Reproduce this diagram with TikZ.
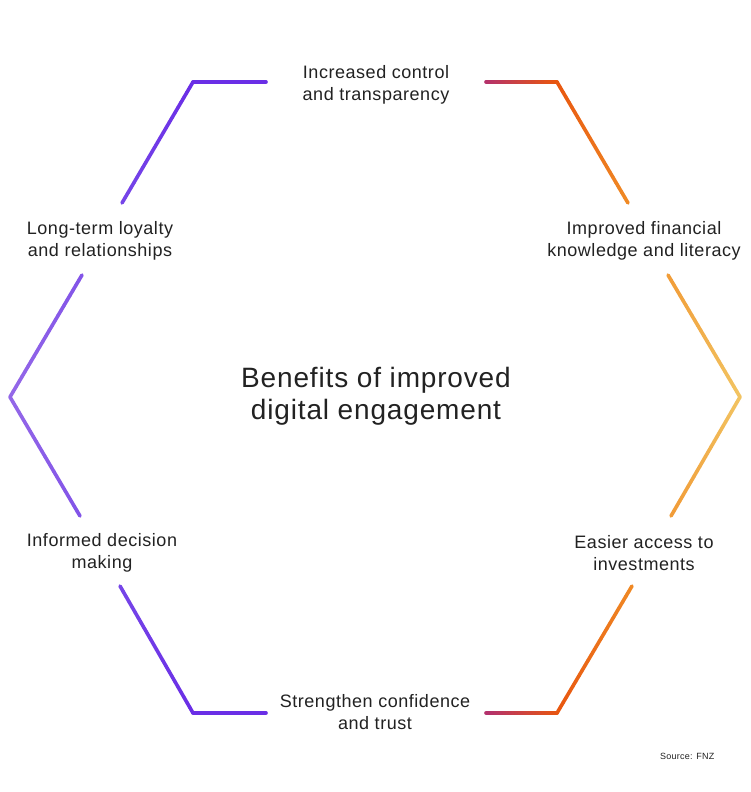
\documentclass[tikz,border=0pt]{standalone}
\usepackage{fontspec}
\setmainfont{Liberation Sans}[LetterSpace=3]
\usetikzlibrary{calc}

\definecolor{purpledeep}{HTML}{6A2EE6}
\definecolor{purplemid}{HTML}{7646E8}
\definecolor{purplelight}{HTML}{9468E8}
\definecolor{magentared}{HTML}{B3316E}
\definecolor{orangedeep}{HTML}{E8560F}
\definecolor{orangemid}{HTML}{F08A25}
\definecolor{yellowsoft}{HTML}{F2C462}
\definecolor{textgrey}{HTML}{222222}

% a straight stroke fading from one colour to another
\newcommand\gradline[4]{%
  \foreach \k in {0,...,23}{%
    \pgfmathsetmacro\ta{\k/24}%
    \pgfmathsetmacro\tb{(\k+1)/24}%
    \pgfmathtruncatemacro\pc{100-100*(\k+0.5)/24}%
    \colorlet{segcol}{#3!\pc!#4}%
    \draw[frame, segcol] ($(#1)!\ta!(#2)$) -- ($(#1)!\tb!(#2)$);
  }}

\tikzset{
  frame/.style={line width=3.6pt, line cap=round},
  benefit/.style={align=center, text=textgrey, font=\fontsize{18}{22}\selectfont},
  headline/.style={align=center, text=textgrey, font=\fontsize{28}{32}\selectfont},
  source/.style={anchor=east, text=textgrey, font=\fontsize{9}{11}\selectfont}
}

\begin{document}
\begin{tikzpicture}[x=1pt, y=-1pt]
  \useasboundingbox[fill=white] (0,0) rectangle (750,792);

  % hexagon corners and stroke ends
  \coordinate (tl) at (193,82);
  \coordinate (tr) at (557,82);
  \coordinate (r) at (740,397);
  \coordinate (br) at (557,713);
  \coordinate (bl) at (193,713);
  \coordinate (l) at (10,397);
  \coordinate (tl1) at (266,82);
  \coordinate (tl2) at (122,203);
  \coordinate (tr1) at (486,82);
  \coordinate (tr2) at (628,203);
  \coordinate (r1) at (668,275);
  \coordinate (r2) at (671,516);
  \coordinate (br1) at (632,586);
  \coordinate (br2) at (486,713);
  \coordinate (bl1) at (120,586);
  \coordinate (bl2) at (266,713);
  \coordinate (l1) at (82,275);
  \coordinate (l2) at (80,516);

  % left strokes
  \gradline{tl2}{tl}{purplemid}{purpledeep}
  \gradline{tl}{tl1}{purpledeep}{purpledeep}
  \gradline{l1}{l}{purplemid!60!purplelight}{purplelight}
  \gradline{l}{l2}{purplelight}{purplemid!60!purplelight}
  \gradline{bl1}{bl}{purplemid}{purpledeep}
  \gradline{bl}{bl2}{purpledeep}{purpledeep}

  % right strokes
  \gradline{tr1}{tr}{magentared}{orangedeep}
  \gradline{tr}{tr2}{orangedeep}{orangemid}
  \gradline{r1}{r}{orangemid!70!yellowsoft}{yellowsoft}
  \gradline{r}{r2}{yellowsoft}{orangemid!70!yellowsoft}
  \gradline{br1}{br}{orangemid}{orangedeep}
  \gradline{br}{br2}{orangedeep}{magentared}

  % labels
  \node[headline] (title) at (376,396) {Benefits of improved\\digital engagement};
  \node[benefit] (control) at (376,85) {Increased control\\and transparency};
  \node[benefit] (literacy) at (644,241) {Improved financial\\knowledge and literacy};
  \node[benefit] (access) at (644,553) {Easier access to\\investments};
  \node[benefit] (trust) at (375,712) {Strengthen confidence\\and trust};
  \node[benefit] (decision) at (102,553) {Informed decision\\making};
  \node[benefit] (loyalty) at (100,241) {Long-term loyalty\\and relationships};
  \node[source] (src) at (718,756) {Source: FNZ};
\end{tikzpicture}
\end{document}
